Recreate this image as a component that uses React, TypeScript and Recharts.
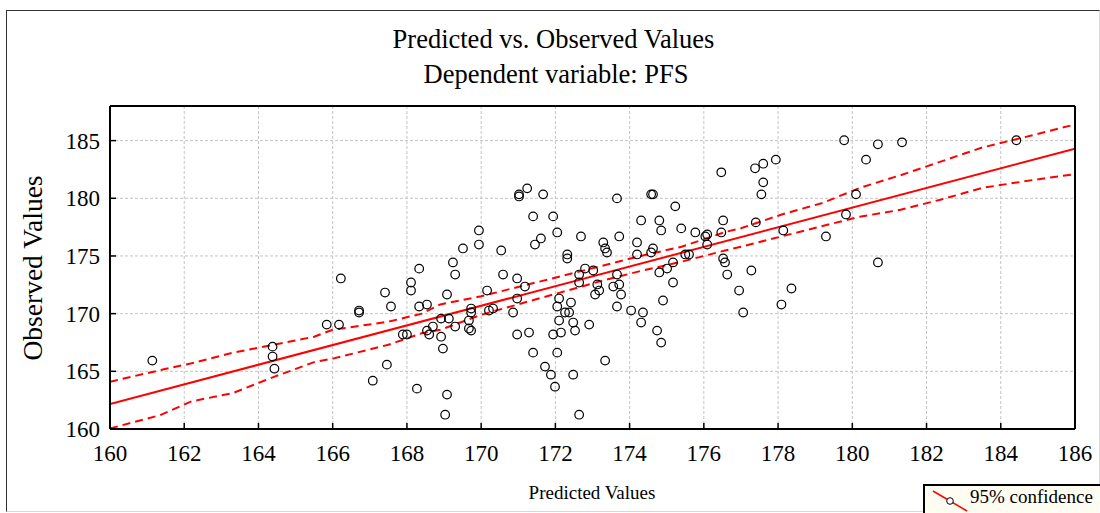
import {
	CartesianGrid,
	ComposedChart,
	Line,
	Scatter,
	XAxis,
	YAxis,
} from "recharts";

const FONT = '"Liberation Serif", "Times New Roman", serif';

// observed cases: predicted value / observed value
const predicted = [
	161.14, 164.38, 164.38, 164.43, 165.84, 166.17, 166.22, 166.71, 166.71, 167.08,
	167.41, 167.46, 167.57, 167.89, 168.0, 168.11, 168.11, 168.33, 168.33, 168.27,
	168.54, 168.54, 168.6, 168.7, 168.92, 168.92, 168.97, 169.08, 169.08, 169.03,
	169.13, 169.24, 169.3, 169.3, 169.51, 169.67, 169.67, 169.73, 169.73, 169.73,
	169.94, 169.94, 170.16, 170.21, 170.32, 170.54, 170.59, 170.86, 170.97, 170.97,
	170.97, 171.02, 171.02, 171.18, 171.24, 171.29, 171.4, 171.4, 171.45, 171.61,
	171.67, 171.72, 171.88, 171.94, 171.94, 171.99, 172.05, 172.05, 172.05, 172.1,
	172.1, 172.15, 172.26, 172.32, 172.32, 172.37, 172.42, 172.48, 172.48, 172.53,
	172.64, 172.64, 172.64, 172.69, 172.8, 172.91, 173.02, 173.07, 173.13, 173.18,
	173.29, 173.34, 173.39, 173.34, 173.56, 173.66, 173.66, 173.66, 173.72, 173.72,
	173.77, 174.04, 174.2, 174.2, 174.31, 174.31, 174.36, 174.58, 174.63, 174.58,
	174.63, 174.74, 174.8, 174.8, 174.85, 174.85, 174.9, 175.01, 175.17, 175.17,
	175.23, 175.39, 175.5, 175.6, 175.77, 176.04, 176.09, 176.09, 176.47, 176.52,
	176.47, 176.52, 176.57, 176.63, 176.95, 177.06, 177.28, 177.38, 177.4, 177.55,
	177.6, 177.6, 177.94, 178.09, 178.14, 178.36, 179.29, 179.78, 179.83, 180.1,
	180.37, 180.69, 180.69, 181.34, 184.42,
];
const observed = [
	165.93, 167.14, 166.28, 165.23, 169.05, 169.05, 173.05, 170.27, 170.1, 164.19,
	171.83, 165.58, 170.62, 168.19, 168.19, 172.7, 172.0, 173.9, 170.62, 163.5,
	170.79, 168.53, 168.19, 168.88, 169.57, 168.0, 166.97, 171.66, 162.98, 161.24,
	169.57, 174.44, 173.39, 168.88, 175.65, 169.4, 168.71, 168.53, 170.44, 170.1,
	177.21, 175.99, 172.0, 170.27, 170.44, 175.48, 173.39, 170.1, 173.05, 171.31,
	168.19, 180.34, 180.16, 172.35, 180.86, 168.36, 178.43, 166.62, 175.99, 176.52,
	180.34, 165.41, 164.71, 178.43, 168.19, 163.67, 177.04, 170.62, 166.62, 169.4,
	171.31, 168.36, 170.1, 175.13, 174.78, 170.1, 170.96, 164.71, 169.23, 168.53,
	173.39, 172.7, 161.24, 176.69, 173.91, 169.05, 173.74, 171.66, 172.53, 172.0,
	176.17, 175.65, 175.3, 165.93, 172.35, 179.99, 173.39, 170.62, 176.69, 172.53,
	171.66, 170.27, 176.17, 175.13, 178.08, 169.23, 170.1, 180.34, 180.34, 175.3,
	175.65, 168.53, 178.08, 173.57, 177.21, 167.49, 171.14, 173.91, 174.44, 172.7,
	179.3, 177.39, 175.13, 175.13, 177.04, 176.69, 176.86, 175.99, 182.25, 178.08,
	177.04, 174.78, 174.44, 173.39, 172.0, 170.1, 173.74, 182.6, 177.91, 180.34,
	181.38, 183.0, 183.35, 170.79, 177.21, 172.18, 176.69, 185.03, 178.6, 180.34,
	183.35, 184.68, 174.44, 184.85, 185.03,
];

// fitted line end points
const fitX = [160, 186];
const fitY = [162.17, 184.3];

// 95% confidence band, read along the x axis
const bandX = [
	160, 161.35, 162.2, 163.3, 164.4, 165.5, 166.0, 167.5, 168.4, 168.9, 170.0, 171.1,
	172.1, 173.2, 174.3, 175.4, 176.6, 177.0, 178.1, 179.2, 180.2, 181.3, 182.4, 183.5,
	184.9, 186,
];
const bandUpper = [
	164.1, 165.1, 165.7, 166.6, 167.3, 168.0, 168.6, 169.3, 170.0, 170.8, 171.5, 172.4,
	173.2, 174.1, 175.0, 175.8, 177.1, 177.4, 178.6, 179.6, 180.9, 182.0, 183.2, 184.4,
	185.5, 186.4,
];
const bandLower = [
	160.05, 161.2, 162.4, 163.1, 164.5, 165.8, 166.1, 167.3, 168.3, 168.6, 169.9, 170.9,
	171.8, 172.8, 173.7, 174.5, 175.5, 175.8, 176.7, 177.6, 178.4, 179.0, 179.9, 180.9,
	181.6, 182.1,
];

const xTicks = [160, 162, 164, 166, 168, 170, 172, 174, 176, 178, 180, 182, 184, 186];
const yTicks = [160, 165, 170, 175, 180, 185];

const points = predicted.map((x, i) => ({ x, y: observed[i] }));
const fitRows = fitX.map((x, i) => ({ x, y: fitY[i] }));
const upperRows = bandX.map((x, i) => ({ x, y: bandUpper[i] }));
const lowerRows = bandX.map((x, i) => ({ x, y: bandLower[i] }));

const tickStyle = { fontSize: 23, fill: "#000", fontFamily: FONT };
const frameLine = { stroke: "#000", strokeWidth: 2 };
const tickMark = { stroke: "#000", strokeWidth: 1.5 };

function OpenCircle(props: any) {
	const { cx, cy } = props;
	if (cx == null || cy == null) return <g />;
	return <circle cx={cx} cy={cy} r={4.3} fill="none" stroke="#000" strokeWidth={1.2} />;
}

export default function App() {
	return (
		<div
			style={{
				position: "relative",
				width: 1100,
				height: 513,
				overflow: "hidden",
				background: "#fff",
				fontFamily: FONT,
			}}
		>
			<style>{"body{margin:0}"}</style>
			<div
				style={{
					position: "absolute",
					left: 6,
					top: 10,
					width: 1092,
					height: 500,
					borderLeft: "1px solid #333",
					borderTop: "1px solid #333",
					borderRight: "1px solid #d8d8d8",
					borderBottom: "1px solid #d8d8d8",
				}}
			/>
			<div style={{ position: "absolute", left: 0, width: 1107, top: 24, textAlign: "center", fontSize: 26.5, lineHeight: "30px" }}>
				Predicted vs. Observed Values
			</div>
			<div style={{ position: "absolute", left: 0, width: 1112, top: 59, textAlign: "center", fontSize: 26.5, lineHeight: "30px" }}>
				Dependent variable: PFS
			</div>
			<div
				style={{
					position: "absolute",
					left: 33,
					top: 268,
					transform: "translate(-50%, -50%) rotate(-90deg)",
					whiteSpace: "nowrap",
					fontSize: 27.5,
				}}
			>
				Observed Values
			</div>
			<div style={{ position: "absolute", left: 0, width: 1184, top: 482, textAlign: "center", fontSize: 19 }}>
				Predicted Values
			</div>

			<div style={{ position: "absolute", left: 0, top: 0 }}>
				<ComposedChart width={1100} height={513} margin={{ top: 105, right: 24, bottom: 83, left: 109 }}>
					<CartesianGrid stroke="#c4c4c4" strokeDasharray="3 2" />
					<XAxis
						dataKey="x"
						type="number"
						domain={[160, 186]}
						ticks={xTicks}
						allowDataOverflow
						height={1}
						tick={tickStyle}
						tickSize={-6}
						tickMargin={22}
						interval={0}
						axisLine={frameLine}
						tickLine={tickMark}
					/>
					<XAxis
						xAxisId="top"
						orientation="top"
						dataKey="x"
						type="number"
						domain={[160, 186]}
						ticks={xTicks}
						allowDataOverflow
						height={1}
						tick={false}
						tickSize={-6}
						axisLine={frameLine}
						tickLine={tickMark}
					/>
					<YAxis
						type="number"
						domain={[160, 188]}
						ticks={yTicks}
						allowDataOverflow
						width={1}
						tick={tickStyle}
						tickSize={-6}
						tickMargin={16}
						interval={0}
						axisLine={frameLine}
						tickLine={tickMark}
					/>
					<YAxis
						yAxisId="right"
						orientation="right"
						type="number"
						domain={[160, 188]}
						ticks={yTicks}
						allowDataOverflow
						width={1}
						tick={false}
						tickSize={-6}
						axisLine={frameLine}
						tickLine={tickMark}
					/>
					<Line data={fitRows} dataKey="y" type="linear" stroke="#ff0000" strokeWidth={2} dot={false} activeDot={false} isAnimationActive={false} />
					<Line data={upperRows} dataKey="y" type="linear" stroke="#ff0000" strokeWidth={2} strokeDasharray="8 5" dot={false} activeDot={false} isAnimationActive={false} />
					<Line data={lowerRows} dataKey="y" type="linear" stroke="#ff0000" strokeWidth={2} strokeDasharray="8 5" dot={false} activeDot={false} isAnimationActive={false} />
					<Scatter data={points} dataKey="y" shape={<OpenCircle />} isAnimationActive={false} />
				</ComposedChart>
			</div>

			<div
				style={{
					position: "absolute",
					left: 923,
					top: 484,
					width: 200,
					height: 40,
					border: "2px solid #000",
					background: "#fffcf2",
				}}
			>
				<svg width={40} height={30} style={{ position: "absolute", left: 6, top: 3 }}>
					<line x1={2} y1={2} x2={36} y2={22} stroke="#ff0000" strokeWidth={1.5} />
					<circle cx={19} cy={12} r={3.3} fill="#fff" stroke="#000" strokeWidth={1} />
				</svg>
				<span style={{ position: "absolute", left: 45, top: 0, fontSize: 19, whiteSpace: "nowrap" }}>95% confidence</span>
			</div>
		</div>
	);
}
